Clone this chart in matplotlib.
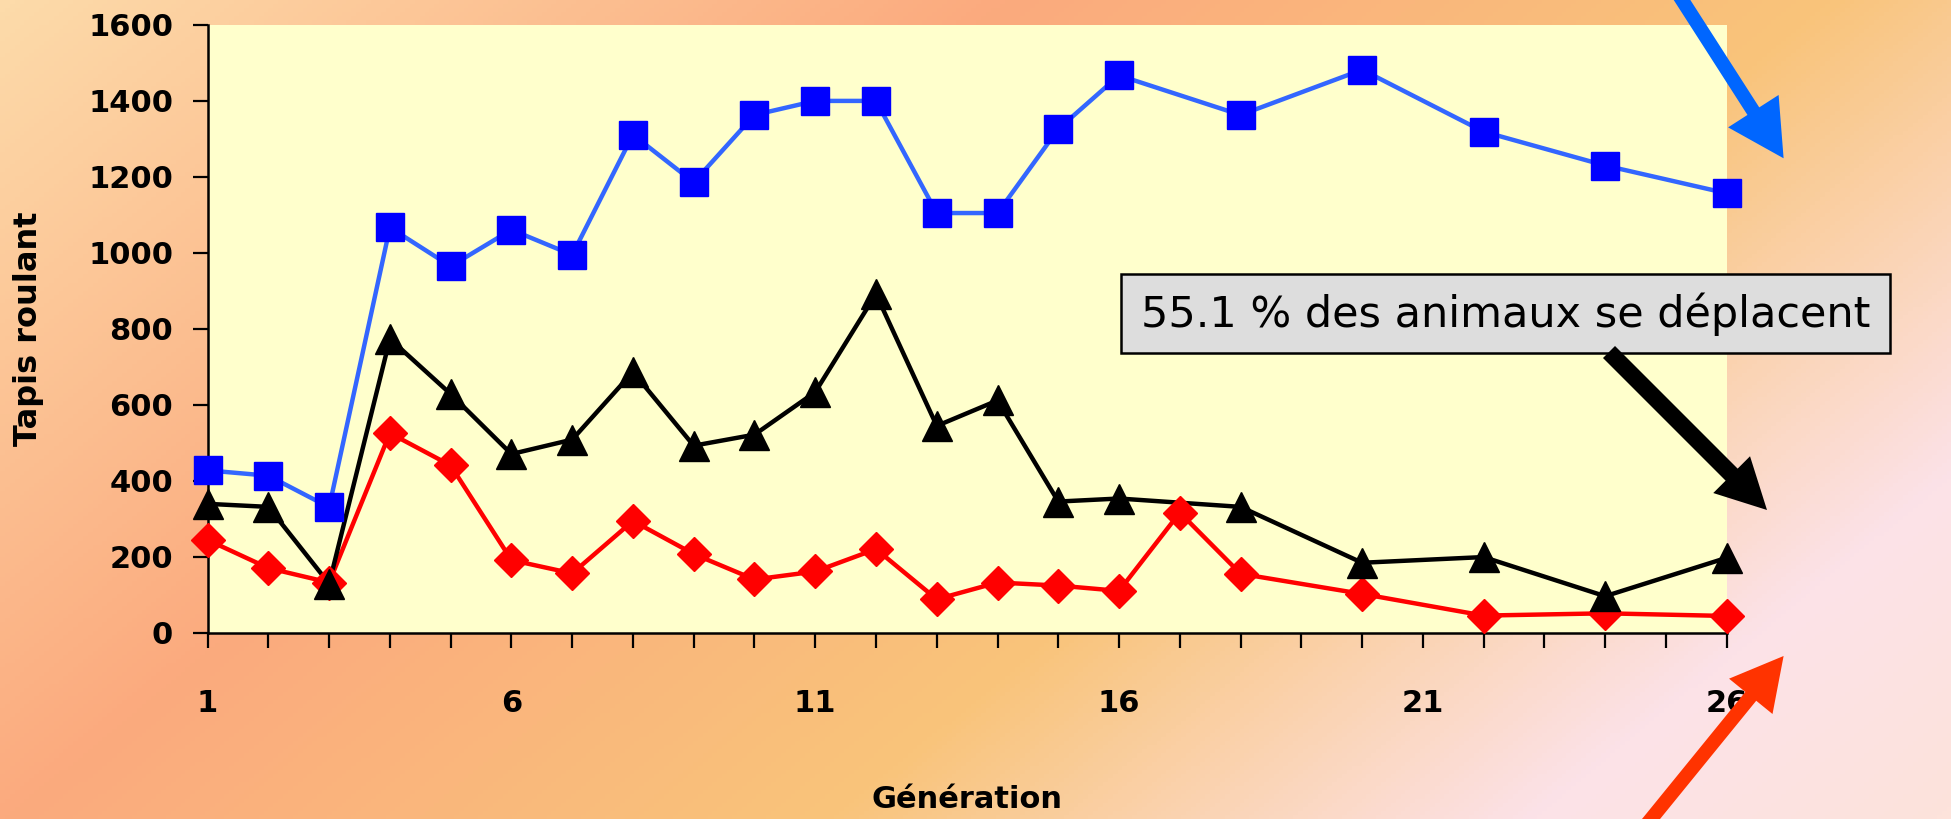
import matplotlib.pyplot as plt
import matplotlib.patches as mpatches
from matplotlib.colors import LinearSegmentedColormap
import numpy as np

nan = np.nan
generations = np.arange(1, 27)
tick_labels = [str(g) if (g - 1) % 5 == 0 else '' for g in generations]

bleu = [427, 413, 330, 1066, 964, 1060, 994, 1310, 1185, 1362, 1399, 1399, 1104, 1104,
        1325, 1466, nan, 1362, nan, 1481, nan, 1318, nan, 1229, nan, 1156]
noir = [339, 331, 129, 773, 628, 470, 508, 686, 492, 521, 633, 891, 544, 611,
        345, 353, nan, 331, nan, 184, nan, 199, nan, 96, nan, 197]
rouge = [244, 170, 132, 525, 440, 191, 156, 294, 207, 140, 161, 220, 88, 132,
         124, 110, 316, 155, nan, 102, nan, 45, nan, 51, nan, 44]

annotation = "55.1 % des animaux se déplacent"

W, H = 1951, 819
dpi = 100
fig = plt.figure(figsize=(W / dpi, H / dpi), dpi=dpi)


def fp(x, y):
    # pixels (origine en haut a gauche) -> fraction de figure
    return (x / W, 1 - y / H)


# fond degrade
bg = fig.add_axes([0, 0, 1, 1], zorder=-10)
xx, yy = np.meshgrid(np.linspace(0, W, 400), np.linspace(0, H, 200))
t = (xx + 1.22 * yy) / (W + 1.22 * H)
cmap = LinearSegmentedColormap.from_list('fond', [
    (0.0, '#FDDBAA'), (0.34, '#FBAA7E'), (0.62, '#F9C47A'),
    (0.86, '#FCE2E8'), (1.0, '#FDE3DB')])
bg.imshow(t, cmap=cmap, extent=[0, 1, 0, 1], aspect='auto', origin='upper', vmin=0, vmax=1)
bg.axis('off')

# zone du graphique
left, top = fp(207.6, 24.5)
right, bottom = fp(1726.7, 632.7)
ax = fig.add_axes([left, bottom, right - left, top - bottom])
ax.set_facecolor('#FFFFCC')

x = generations
for vals, lc, mc, mk, ms, zl in [
        (rouge, '#FF0000', '#FF0000', 'D', 17.5, 3),
        (noir, '#000000', '#000000', '^', 21.5, 4),
        (bleu, '#3366FF', '#0000FF', 's', 20.5, 5)]:
    v = np.array(vals, dtype=float)
    m = ~np.isnan(v)
    ax.plot(x[m], v[m], color=lc, lw=3.2, zorder=2, clip_on=False)
    ax.plot(x[m], v[m], ls='none', marker=mk, ms=ms, color=mc, mec=mc, zorder=zl, clip_on=False)

ax.set_xlim(1, 26)
ax.set_ylim(0, 1600)
ax.set_yticks(range(0, 1601, 200))
ax.set_xticks(generations)
ax.set_xticklabels(tick_labels)

for s in ['top', 'right']:
    ax.spines[s].set_visible(False)
for s in ['left', 'bottom']:
    ax.spines[s].set_linewidth(1.8)

ax.tick_params(axis='both', direction='out', length=10.8, width=1.6, labelsize=22)
ax.tick_params(axis='y', pad=14)
ax.tick_params(axis='x', pad=30)
for lab in ax.get_xticklabels() + ax.get_yticklabels():
    lab.set_fontweight('bold')

ax.set_xlabel('Génération', fontsize=22, fontweight='bold', va='center')
ax.xaxis.set_label_coords(0.5, -0.275)
ax.set_ylabel('Tapis roulant', fontsize=23, fontweight='bold', va='center')
ax.yaxis.set_label_coords(-0.1176, 0.5)

# encadre
x0, y0 = fp(1121, 353)
x1, y1 = fp(1890, 274)
box = mpatches.Rectangle((x0, y0), x1 - x0, y1 - y0, transform=fig.transFigure,
                         facecolor='#DDDDDD', edgecolor='black', lw=1.8, zorder=20)
fig.add_artist(box)
fig.text(*fp(1141, 314), annotation, fontsize=31, ha='left', va='center', zorder=21)

# fleches
ms = 72 / dpi
arrows = [
    ((1666, -25), (1783.6, 158.3), '#0066FF', 56, 60, 14),
    ((1609, 352), (1767, 510), '#000000', 50, 52, 17),
    ((1638, 835), (1783.6, 656), '#FF3300', 52, 56, 14),
]
for a, b, c, hl, hw, tw in arrows:
    arr = mpatches.FancyArrowPatch(fp(*a), fp(*b), transform=fig.transFigure,
                                   arrowstyle=f'simple,head_length={hl},head_width={hw},tail_width={tw}',
                                   mutation_scale=ms, shrinkA=0, shrinkB=0,
                                   facecolor=c, edgecolor='none', zorder=22)
    fig.add_artist(arr)

plt.savefig('out.png', dpi=dpi)
